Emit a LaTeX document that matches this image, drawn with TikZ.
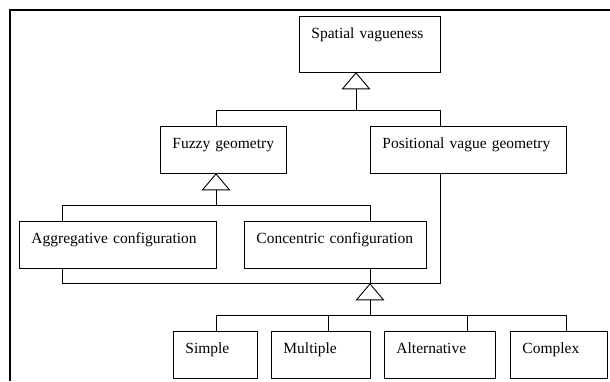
\documentclass[tikz,border=0pt]{standalone}
\usepackage{fontspec}
\setmainfont{Liberation Serif}
\usetikzlibrary{calc}
\begin{document}
\begin{tikzpicture}[x=1pt,y=-1pt,
  box/.style={draw,line width=0.9pt,anchor=north west,inner xsep=12pt,inner ysep=0pt,
    align=left,font=\fontsize{15.5}{18}\selectfont,text height=22pt,text depth=25pt},
  conn/.style={line width=0.9pt},
  tri/.style={line width=0.9pt,fill=white}]
\useasboundingbox[fill=white] (0,0) rectangle (610,381);
\draw[line width=2pt] (10,381) -- (10,10) -- (610,10);

% nodes
\node[box,text width=117pt,text depth=34pt] (sv) at (299,16) {Spatial vagueness};
\node[box,text width=102pt] (fg) at (160,126) {Fuzzy geometry};
\node[box,text width=172pt] (pv) at (370,126) {Positional vague geometry};
\node[box,text width=173pt] (ag) at (19,221) {Aggregative configuration};
\node[box,text width=158pt] (cc) at (244,221) {Concentric configuration};
\node[box,text width=60pt] (si) at (173,331) {Simple};
\node[box,text width=75pt] (mu) at (271,331) {Multiple};
\node[box,text width=87pt] (al) at (384,331) {Alternative};
\node[box,text width=73pt] (co) at (510,331) {Complex};

% level 1
\coordinate (t1) at ($(sv.south west)+(57,0)$);
\coordinate (j1) at ($(t1)+(0,38)$);
\draw[conn] ($(t1)+(0,16)$) -- (j1);
\draw[conn] ($(fg.north west)+(56,0)$) |- (j1);
\draw[conn] ($(pv.north west)+(70,0)$) |- (j1);
\draw[tri] (t1) -- ++(-13.5,16) -- ++(27,0) -- cycle;

% level 2
\coordinate (t2) at ($(fg.south west)+(56,0)$);
\coordinate (j2) at ($(t2)+(0,32)$);
\draw[conn] ($(t2)+(0,16)$) -- (j2);
\draw[conn] ($(ag.north west)+(43,0)$) |- (j2);
\draw[conn] ($(cc.north west)+(126,0)$) |- (j2);
\draw[tri] (t2) -- ++(-13.5,16) -- ++(27,0) -- cycle;

% level 3
\coordinate (t3) at ($(cc.south west)+(126,15)$);
\coordinate (j3) at ($(t3)+(0,32)$);
\draw[conn] ($(ag.south west)+(43,0)$) |- (t3);
\draw[conn] ($(cc.south west)+(126,0)$) -- (t3);
\draw[conn] ($(pv.south west)+(70,0)$) |- (t3);
\draw[conn] ($(t3)+(0,16)$) -- (j3);
\draw[conn] ($(si.north west)+(43,0)$) |- (j3);
\draw[conn] ($(mu.north west)+(57,0)$) |- (j3);
\draw[conn] ($(al.north west)+(83,0)$) |- (j3);
\draw[conn] ($(co.north west)+(56,0)$) |- (j3);
\draw[tri] (t3) -- ++(-13.5,16) -- ++(27,0) -- cycle;
\end{tikzpicture}
\end{document}
